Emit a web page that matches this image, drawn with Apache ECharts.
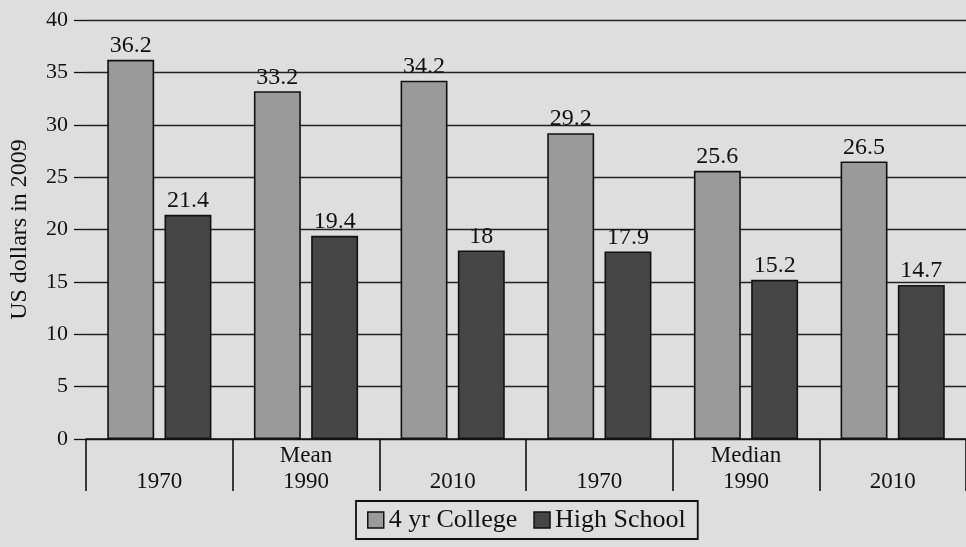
<!DOCTYPE html>
<html><head><meta charset="utf-8">
<script src="https://cdn.jsdelivr.net/npm/echarts@6/dist/echarts.min.js"></script>
<style>html,body{margin:0;padding:0;background:#dedede}#c{width:966px;height:547px}</style>
</head><body><div id="c"></div>
<script>
var categories = ['\n1970', 'Mean\n1990', '\n2010', '\n1970', 'Median\n1990', '\n2010'];
var college = [36.2, 33.2, 34.2, 29.2, 25.6, 26.5];
var highSchool = [21.4, 19.4, 18, 17.9, 15.2, 14.7];
var yTicks = [0, 5, 10, 15, 20, 25, 30, 35, 40];

var font = 'Liberation Serif';
var chart = echarts.init(document.getElementById('c'));
chart.setOption({
  backgroundColor: '#dedede',
  animation: false,
  textStyle: {fontFamily: font, color: '#111'},
  grid: {left: 82, right: -20, top: 20, bottom: 108},
  legend: {
    left: 356, top: 501,
    icon: 'rect',
    itemWidth: 16, itemHeight: 16, itemGap: 16,
    padding: [6, 12, 6, 11],
    borderColor: '#111', borderWidth: 1.8,
    itemStyle: {borderColor: '#111', borderWidth: 1.5},
    textStyle: {fontFamily: font, fontSize: 26, color: '#111'},
    data: ['4 yr College', 'High School']
  },
  xAxis: {
    type: 'category',
    data: categories,
    axisLine: {lineStyle: {color: '#111', width: 1.6}},
    axisTick: {show: true, length: 52, alignWithLabel: false, lineStyle: {color: '#111', width: 1.6}},
    axisLabel: {fontFamily: font, fontSize: 23, color: '#111', lineHeight: 26, margin: 4}
  },
  yAxis: {
    type: 'value',
    min: yTicks[0], max: yTicks[yTicks.length - 1], interval: 5,
    name: 'US dollars in 2009',
    nameLocation: 'middle',
    nameGap: 54,
    nameTextStyle: {fontFamily: font, fontSize: 24, color: '#111'},
    axisLine: {show: false},
    axisTick: {show: true, length: 12, lineStyle: {color: '#111', width: 1.3}},
    axisLabel: {fontFamily: font, fontSize: 22, color: '#111', margin: 18},
    splitLine: {lineStyle: {color: '#222', width: 1.3}}
  },
  series: [
    {
      name: '4 yr College', type: 'bar', data: college,
      barWidth: '32%', barGap: '22%',
      itemStyle: {color: '#9a9a9a', borderColor: '#111', borderWidth: 1.6},
      label: {show: true, position: 'top', fontFamily: font, fontSize: 24, color: '#111', distance: 2}
    },
    {
      name: 'High School', type: 'bar', data: highSchool,
      barWidth: '32%',
      itemStyle: {color: '#464646', borderColor: '#111', borderWidth: 1.6},
      label: {show: true, position: 'top', fontFamily: font, fontSize: 24, color: '#111', distance: 2}
    }
  ]
});
</script></body></html>
